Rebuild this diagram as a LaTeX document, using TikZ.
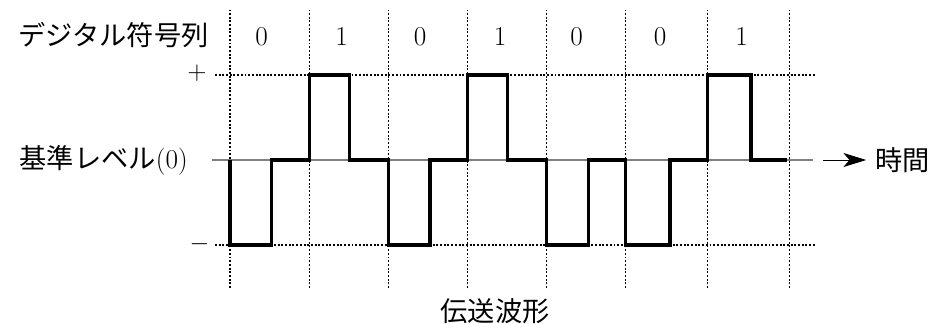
\documentclass[tikz,border=0pt]{standalone}
\usepackage{fontspec}
\newfontfamily\jp{Noto Sans CJK JP}
\usetikzlibrary{arrows.meta}

\begin{document}
\begin{tikzpicture}[
  guide/.style={dash pattern=on 1.1pt off 1pt, line width=0.6pt},
  wave/.style={line width=2pt},
  lbl/.style={inner sep=0pt, font=\fontsize{15.5}{18}\selectfont},
  sgn/.style={inner sep=0pt, font=\fontsize{14}{16}\selectfont}]
\useasboundingbox (-4.6,-3.26) rectangle (14.2,3.2);
% time slots and levels
\foreach \x in {0,1.59,3.17,4.75,6.33,7.91,9.55,11.19}
\draw[guide] (\x,-2.56) -- (\x,3.0);
\draw[guide] (-0.3,1.7) -- (11.7,1.7);
\draw[guide] (-0.3,-1.7) -- (11.7,-1.7);
\draw[gray, line width=0.6pt] (-0.36,0) -- (11.66,0);
% labels
\node[lbl, anchor=east] (seq) at (-0.42,2.49) {\jp デジタル符号列};
\foreach \x/\b [count=\i] in {0.63/0,2.23/1,3.8/0,5.4/1,6.93/0,8.6/0,10.23/1}
\node[lbl] (b\i) at (\x,2.47) {\b};
\node[sgn] (plus) at (-0.66,1.73) {$+$};
\node[sgn] (minus) at (-0.61,-1.68) {$-$};
\node[lbl, anchor=east] (ref) at (-0.84,0) {{\jp 基準レベル}(0)};
\node[lbl, anchor=west] (time) at (12.9,0) {\jp 時間};
\node[lbl] (wave) at (5.3,-3.02) {\jp 伝送波形};
\coordinate (t0) at (11.86,0);
\draw[line width=0.5pt, -{Stealth[length=13pt, width=8pt, inset=3.5pt]}, shorten >=5pt] (t0) -- (time.west);
% waveform
\draw[wave] (0,0) -- (0,-1.7) -- (0.83,-1.7) -- (0.83,0) -- (1.59,0)
  -- (1.59,1.7) -- (2.39,1.7) -- (2.39,0) -- (3.17,0)
  -- (3.17,-1.7) -- (4.0,-1.7) -- (4.0,0) -- (4.75,0)
  -- (4.75,1.7) -- (5.55,1.7) -- (5.55,0) -- (6.33,0)
  -- (6.33,-1.7) -- (7.17,-1.7) -- (7.17,0) -- (7.91,0)
  -- (7.91,-1.7) -- (8.8,-1.7) -- (8.8,0) -- (9.55,0)
  -- (9.55,1.7) -- (10.42,1.7) -- (10.42,0) -- (11.13,0);
\end{tikzpicture}
\end{document}
